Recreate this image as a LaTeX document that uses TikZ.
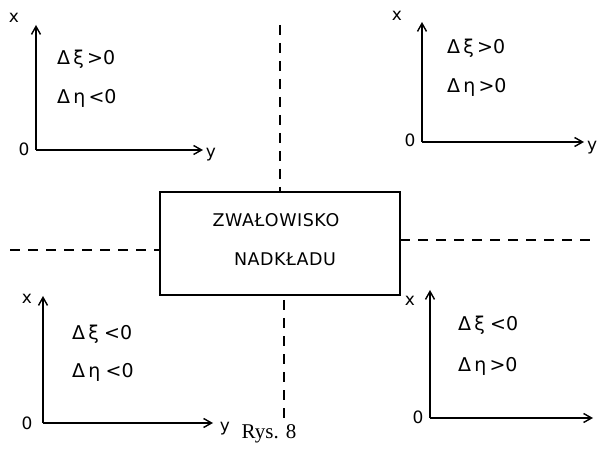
\documentclass[tikz,border=0pt]{standalone}
\usepackage{fontspec}
\setmainfont{DejaVu Sans}
\newfontfamily\rysfont{Liberation Serif}
\usetikzlibrary{arrows.meta}
\begin{document}
\begin{tikzpicture}[x=1pt,y=-1pt,
  axis/.style={line width=1.4pt,-{Straight Barb[length=8pt,width=9pt]}},
  dashline/.style={line width=1.4pt,dash pattern=on 10pt off 8pt},
  lbl/.style={font=\fontsize{17}{17}\selectfont,inner sep=0pt},
  cond/.style={font=\fontsize{19}{19}\selectfont,inner sep=0pt,anchor=west},
  boxtxt/.style={font=\fontsize{17.5}{17.5}\selectfont\addfontfeature{LetterSpace=3},inner sep=0pt}]
\useasboundingbox (0,0) rectangle (597,454);
% central box
\node[draw,line width=1.4pt,minimum width=240pt,minimum height=103pt,inner sep=0pt] (box) at (280,243.5) {};
\node[boxtxt] (t1) at (276,220) {ZWAŁOWISKO};
\node[boxtxt] (t2) at (285,259) {NADKŁADU};
% dashed lines
\coordinate (dt) at (280,25);
\coordinate (db1) at (284,300);
\coordinate (db2) at (284,418);
\coordinate (dl1) at (10,250);
\coordinate (dl2) at (160,250);
\coordinate (dr) at (597,240);
\coordinate (dr0) at (400,240);
\draw[dashline] (dt) -- (box.north);
\draw[dashline] (db1) -- (db2);
\draw[dashline] (dl1) -- (dl2);
\draw[dashline] (dr0) -- (dr);
% top-left axes
\coordinate (o1) at (36,150);
\coordinate (x1) at (36,25);
\coordinate (y1) at (203,150);
\draw[axis] (o1) -- (x1);
\draw[axis] (o1) -- (y1);
\node[lbl] (lx1) at (14,18) {x};
\node[lbl] (l01) at (24,149) {0};
\node[lbl] (ly1) at (211,155) {y};
\node[cond] (c11) at (57,59) {Δ\,ξ\,>0};
\node[cond] (c12) at (57,98) {Δ\,η\,<0};
% top-right axes
\coordinate (o2) at (422,142);
\coordinate (x2) at (422,22);
\coordinate (y2) at (584,142);
\draw[axis] (o2) -- (x2);
\draw[axis] (o2) -- (y2);
\node[lbl] (lx2) at (397,16) {x};
\node[lbl] (l02) at (410,140) {0};
\node[lbl,anchor=west] (ly2) at (587,148) {y};
\node[cond] (c21) at (447,48) {Δ\,ξ\,>0};
\node[cond] (c22) at (447,87) {Δ\,η\,>0};
% bottom-left axes
\coordinate (o3) at (43,423);
\coordinate (x3) at (43,296);
\coordinate (y3) at (213,423);
\draw[axis] (o3) -- (x3);
\draw[axis] (o3) -- (y3);
\node[lbl] (lx3) at (27,299) {x};
\node[lbl] (l03) at (27,423) {0};
\node[lbl] (ly3) at (225,429) {y};
\node[cond] (c31) at (72,334) {Δ\,ξ\;<0};
\node[cond] (c32) at (72,372) {Δ\,η\;<0};
% bottom-right axes
\coordinate (o4) at (430,418);
\coordinate (x4) at (430,290);
\coordinate (y4) at (593,418);
\draw[axis] (o4) -- (x4);
\draw[axis] (o4) -- (y4);
\node[lbl] (lx4) at (410,301) {x};
\node[lbl] (l04) at (418,417) {0};
\node[cond] (c41) at (458,325) {Δ\,ξ\;<0};
\node[cond] (c42) at (458,366) {Δ\,η\,>0};
% caption
\node[font=\rysfont\fontsize{21}{21}\selectfont,inner sep=0pt] (cap) at (269,434) {Rys. 8};
\end{tikzpicture}
\end{document}
